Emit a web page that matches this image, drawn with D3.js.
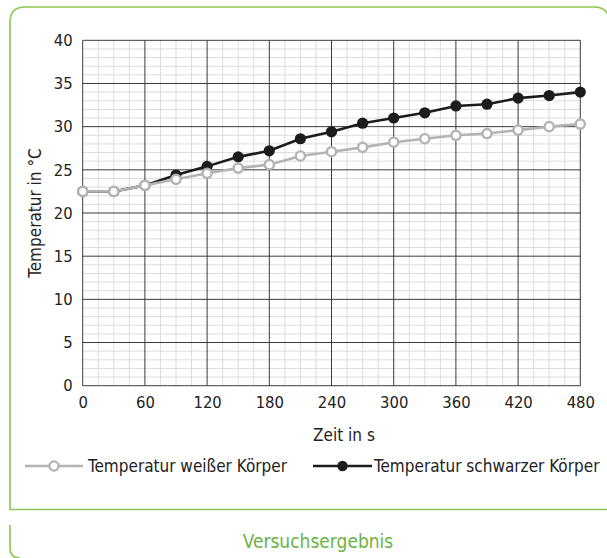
<!DOCTYPE html>
<html>
<head>
<meta charset="utf-8">
<script src="https://cdn.jsdelivr.net/npm/d3@7"></script>
<style>
  body { margin: 0; background: #fff; }
  svg { display: block; }
  text { font-family: "DejaVu Sans Condensed", "Liberation Sans Narrow", "DejaVu Sans", sans-serif; fill: #222; }
</style>
</head>
<body>
<div id="chart"></div>
<script>
// data
const zeit = [0, 30, 60, 90, 120, 150, 180, 210, 240, 270, 300, 330, 360, 390, 420, 450, 480];
const weiss = [22.5, 22.5, 23.2, 23.9, 24.6, 25.2, 25.6, 26.6, 27.1, 27.6, 28.2, 28.6, 29.0, 29.2, 29.6, 30.0, 30.3];
const schwarz = [22.5, 22.5, 23.2, 24.4, 25.4, 26.5, 27.2, 28.6, 29.4, 30.4, 31.0, 31.6, 32.4, 32.6, 33.3, 33.6, 34.0];
const xTicks = [0, 60, 120, 180, 240, 300, 360, 420, 480];
const yTicks = [0, 5, 10, 15, 20, 25, 30, 35, 40];
const seriesNames = ['Temperatur weißer Körper', 'Temperatur schwarzer Körper'];

const W = 607, H = 558;
const green = '#8cc652';
const plot = { l: 82.7, r: 580.3, t: 40.3, b: 385.7 };

const svg = d3.select('#chart').append('svg')
  .attr('width', W).attr('height', H);

// frames
svg.append('path')
  .attr('d', `M10,509.5 L10,22 Q10,7 25,7 L594,7 Q609,7 609,22 L609,509.5 Z`)
  .attr('fill', 'none').attr('stroke', green).attr('stroke-width', 1.6);
svg.append('path')
  .attr('d', `M10,525 L10,548 Q10,558 20,558`)
  .attr('fill', 'none').attr('stroke', green).attr('stroke-width', 1.6);

const x = d3.scaleLinear().domain([0, 480]).range([plot.l, plot.r]);
const y = d3.scaleLinear().domain([0, 40]).range([plot.b, plot.t]);

// grid
const grid = svg.append('g');
grid.selectAll('.vmin').data(d3.range(0, 481, 15).filter(d => d % 60))
  .join('line')
  .attr('x1', d => x(d)).attr('x2', d => x(d))
  .attr('y1', plot.t).attr('y2', plot.b)
  .attr('stroke', '#dcdcdc').attr('stroke-width', 1);
grid.selectAll('.hmin').data(d3.range(0, 41, 1).filter(d => d % 5))
  .join('line')
  .attr('y1', d => y(d)).attr('y2', d => y(d))
  .attr('x1', plot.l).attr('x2', plot.r)
  .attr('stroke', '#dcdcdc').attr('stroke-width', 1);
grid.selectAll('.vmaj').data(xTicks)
  .join('line')
  .attr('x1', d => x(d)).attr('x2', d => x(d))
  .attr('y1', plot.t).attr('y2', plot.b)
  .attr('stroke', '#3a3a3a').attr('stroke-width', 1);
grid.selectAll('.hmaj').data(yTicks)
  .join('line')
  .attr('y1', d => y(d)).attr('y2', d => y(d))
  .attr('x1', plot.l).attr('x2', plot.r)
  .attr('stroke', '#3a3a3a').attr('stroke-width', 1);

// axes (labels only)
const xAxis = svg.append('g')
  .attr('transform', `translate(0,${plot.b})`)
  .call(d3.axisBottom(x).tickValues(xTicks).tickSize(0).tickPadding(11));
const yAxis = svg.append('g')
  .attr('transform', `translate(${plot.l},0)`)
  .call(d3.axisLeft(y).tickValues(yTicks).tickSize(0).tickPadding(10));
[xAxis, yAxis].forEach(a => {
  a.select('.domain').remove();
  a.selectAll('text').attr('font-size', 16.5).attr('font-family', null).style('fill', '#222');
});

svg.append('text')
  .attr('x', 344).attr('y', 441)
  .attr('text-anchor', 'middle').attr('font-size', 17)
  .text('Zeit in s');
svg.append('text')
  .attr('transform', `translate(41,${(plot.t + plot.b) / 2}) rotate(-90)`)
  .attr('text-anchor', 'middle').attr('font-size', 17)
  .text('Temperatur in °C');

// series
const line = d3.line().x((d, i) => x(zeit[i])).y(d => y(d));
const styles = [
  { data: weiss, stroke: '#b3b3b3', fill: '#fff' },
  { data: schwarz, stroke: '#1c1c1c', fill: '#1c1c1c' }
];
[styles[1], styles[0]].forEach(s => {
  const g = svg.append('g');
  g.append('path').attr('d', line(s.data))
    .attr('fill', 'none').attr('stroke', s.stroke).attr('stroke-width', 2.6);
  g.selectAll('circle').data(s.data).join('circle')
    .attr('cx', (d, i) => x(zeit[i])).attr('cy', d => y(d))
    .attr('r', s.fill === '#fff' ? 4.6 : 5.6)
    .attr('fill', s.fill).attr('stroke', s.stroke)
    .attr('stroke-width', s.fill === '#fff' ? 2.4 : 0);
});

// legend
const legendPos = [{ x1: 25, x2: 83, tx: 88 }, { x1: 313, x2: 372, tx: 374 }];
const legY = 466;
legendPos.forEach((p, i) => {
  const s = styles[i];
  const g = svg.append('g');
  g.append('line').attr('x1', p.x1).attr('x2', p.x2).attr('y1', legY).attr('y2', legY)
    .attr('stroke', s.stroke).attr('stroke-width', 2.6);
  g.append('circle').attr('cx', (p.x1 + p.x2) / 2).attr('cy', legY)
    .attr('r', i === 0 ? 4.6 : 5.2)
    .attr('fill', s.fill).attr('stroke', s.stroke).attr('stroke-width', i === 0 ? 2.4 : 0);
  g.append('text').attr('x', p.tx).attr('y', legY + 6)
    .attr('font-size', 17).text(seriesNames[i]);
});

svg.append('text')
  .attr('x', 318).attr('y', 548.3)
  .attr('text-anchor', 'middle').attr('font-size', 19)
  .style('fill', '#6db33f')
  .text('Versuchsergebnis');
</script>
</body>
</html>
